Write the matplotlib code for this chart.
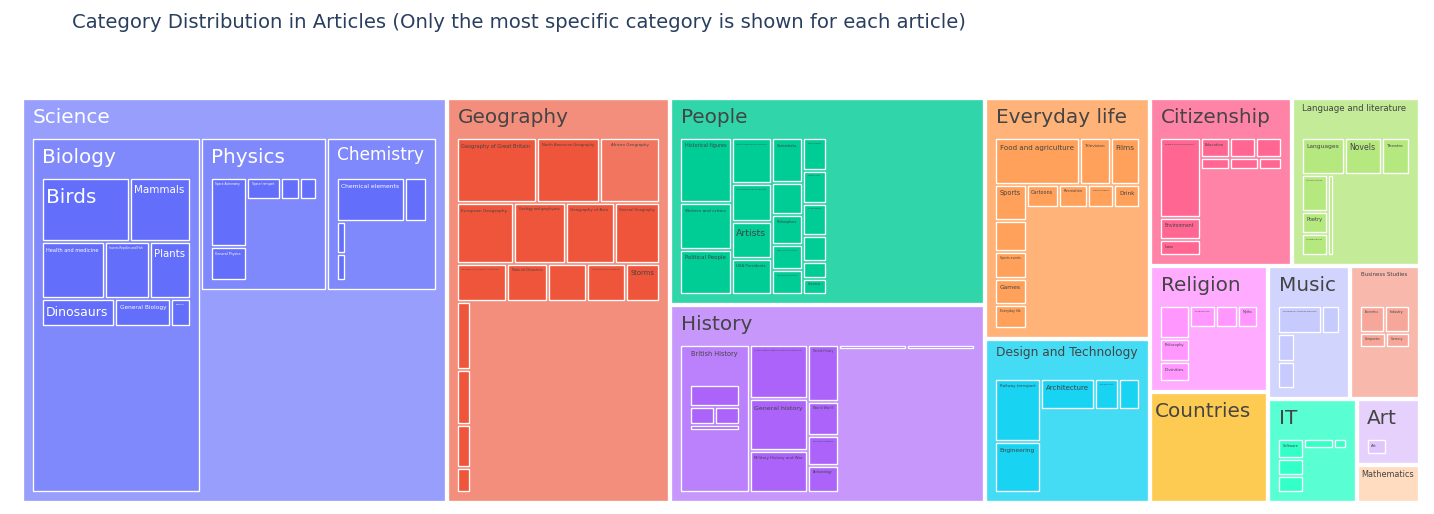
import colorsys
import matplotlib
matplotlib.use("Agg")
import matplotlib.pyplot as plt
from matplotlib.patches import Rectangle
from matplotlib.font_manager import FontProperties

#%% data: article counts, each article counted at its most specific category

top_names = ["Science", "Geography", "People", "History", "Everyday life",
             "Design and Technology", "Citizenship", "Language and literature",
             "Religion", "Countries", "Music", "Business Studies", "IT", "Art", "Mathematics"]
top_own = [524, 417, 301, 254, 182, 124, 107, 94, 68, 120, 48, 42, 42, 20, 22]

science_names = ["Biology", "Physics", "Chemistry"]
science_own = [337, 110, 97]

biology_names = ["Birds", "Mammals", "Health and medicine", "Insects Reptiles and Fish",
                 "Plants", "Dinosaurs", "General Biology", "Organisms"]
biology_vals = [82, 57, 52, 37, 34, 30, 23, 8]

physics_names = ["Space Astronomy", "General Physics", "Space transport",
                 "Electricity and Electronics", "The Planets"]
physics_vals = [49, 24, 14, 8, 7]

chemistry_names = ["Chemical elements", "Chemical compounds", "General Chemistry", "Organic chemistry"]
chemistry_vals = [59, 19, 6, 5]

geography_names = ["Geography of Great Britain", "North American Geography", "African Geography",
                   "European Geography", "Geology and geophysics", "Geography of Asia",
                   "General Geography", "Geography of Oceania Australasia", "Natural Disasters",
                   "Central and South American Geography", "Climate and the Weather", "Storms",
                   "Geography of the Middle East", "Mineralogy", "Antarctica", "Oceans"]
geography_vals = [60, 47, 45, 40, 36, 34, 32, 22, 18, 17, 17, 15, 11, 9, 7, 4]
african_names = ["African Countries"]
african_vals = [0]

people_names = ["Historical figures", "Writers and critics", "Political People",
                "Sports and games people", "Performers and composers", "Artists", "USA Presidents",
                "Scientists", "Religious figures and leaders", "Philosophers", "Engineers and inventors",
                "Monarchs of Great Britain", "Human Scientists", "Mathematicians", "Military People",
                "Producers directors and media figures", "Astronomers and physicists", "Chemists"]
people_vals = [43, 31, 30, 24, 20, 19, 19, 18, 13, 12, 10, 10, 10, 10, 10, 8, 5, 5]

history_names = ["British History", "Ancient History Classical History and Mythology",
                 "General history", "Military History and War", "Recent History", "World War II",
                 "Pre 1900 Military", "Archaeology", "Historians chroniclers and history books",
                 "North American History"]
history_own = [72, 42, 40, 32, 23, 14, 12, 11, 5, 5]
british_names = ["British History 1500 and before including Roman Britain", "British History 1500 1750",
                 "British History 1750 1900", "British History Post 1900"]
british_vals = [31, 12, 12, 8]

everyday_names = ["Food and agriculture", "Television", "Films", "Sports", "Computer and Video games",
                  "Sports events", "Games", "Everyday life", "Cartoons", "Recreation",
                  "Sports teams", "Drink"]
everyday_vals = [52, 19, 18, 15, 13, 11, 11, 10, 10, 9, 8, 8]

design_names = ["Railway transport", "Engineering", "Architecture", "Road transport", "Air and Sea transport"]
design_vals = [44, 35, 25, 11, 10]

citizenship_names = ["Politics and government", "Environment", "Law", "Education", "Culture and Diversity",
                     "Community organisations", "Media", "Animal and Human Rights", "Armed Forces"]
citizenship_vals = [49, 13, 10, 9, 8, 8, 5, 5, 4]

language_names = ["Languages", "Novels", "Theatre", "Literature types", "Poetry", "Childrens books",
                  "Language and literature"]
language_vals = [25, 21, 16, 15, 9, 9, 8]

religion_names = ["Religious movements traditions and organizations", "Philosophy", "Divinities",
                  "Religious texts", "Religious disputes", "Myths"]
religion_vals = [18, 13, 11, 10, 9, 8]

music_names = ["Musical genres styles eras and events", "Musical Recordings and compositions",
               "Musical Instruments", "Music theory"]
music_vals = [24, 10, 9, 9]

business_names = ["Economics", "Industry", "Companies", "Currency"]
business_vals = [14, 14, 8, 7]

it_names = ["Software", "Computer Programming", "Websites and the Internet",
            "Computing hardware and infrastructure", "Cryptography"]
it_vals = [12, 10, 10, 7, 3]

art_names = ["Art"]
art_vals = [18]

title = "Category Distribution in Articles (Only the most specific category is shown for each article)"

colorway = ["#636efa", "#EF553B", "#00cc96", "#ab63fa", "#FFA15A",
            "#19d3f3", "#FF6692", "#B6E880", "#FF97FF", "#FECB52"]

#%% build the tree

def node(name, own, kids=None):
    return {"name": name, "own": own, "kids": kids or []}

def leaves(names, vals):
    return [node(n, v) for n, v in zip(names, vals)]

science_kids = [node("Biology", science_own[0], leaves(biology_names, biology_vals)),
                node("Physics", science_own[1], leaves(physics_names, physics_vals)),
                node("Chemistry", science_own[2], leaves(chemistry_names, chemistry_vals))]
geography_kids = leaves(geography_names, geography_vals)
geography_kids[geography_names.index("African Geography")]["kids"] = leaves(african_names, african_vals)
history_kids = leaves(history_names, history_own)
history_kids[0]["kids"] = leaves(british_names, british_vals)

top_kids = [science_kids, geography_kids, leaves(people_names, people_vals), history_kids,
            leaves(everyday_names, everyday_vals), leaves(design_names, design_vals),
            leaves(citizenship_names, citizenship_vals), leaves(language_names, language_vals),
            leaves(religion_names, religion_vals), [], leaves(music_names, music_vals),
            leaves(business_names, business_vals), leaves(it_names, it_vals),
            leaves(art_names, art_vals), []]

root = node("", 0, [node(n, o, k) for n, o, k in zip(top_names, top_own, top_kids)])

def total(nd):
    nd["value"] = nd["own"] + sum(total(c) for c in nd["kids"])
    nd["height"] = 1 + max(c["height"] for c in nd["kids"]) if nd["kids"] else 0
    nd["kids"] = sorted(nd["kids"], key=lambda c: -c["value"])
    return nd["value"]

total(root)

#%% squarified treemap (same rules as d3 / plotly, ratio 1)

PAD_T, PAD_S, PAD_IN = 40, 10, 3

def dice(row, tot, x0, y0, x1, y1):
    k = (x1 - x0) / tot if tot else 0
    for nd in row:
        nd["x0"], nd["y0"], nd["y1"] = x0, y0, y1
        x0 += nd["value"] * k
        nd["x1"] = x0

def slice_(row, tot, x0, y0, x1, y1):
    k = (y1 - y0) / tot if tot else 0
    for nd in row:
        nd["x0"], nd["x1"], nd["y0"] = x0, x1, y0
        y0 += nd["value"] * k
        nd["y1"] = y0

def squarify(nodes, value, x0, y0, x1, y1):
    i0 = i1 = 0
    n = len(nodes)
    while i0 < n:
        dx, dy = x1 - x0, y1 - y0
        s = nodes[i1]["value"]
        i1 += 1
        while not s and i1 < n:
            s = nodes[i1]["value"]
            i1 += 1
        lo = hi = s
        if dx > 0 and dy > 0 and value > 0:
            alpha = max(dy / dx, dx / dy) / value
        else:
            alpha = 0
        beta = s * s * alpha
        best = max(hi / beta, beta / lo) if beta > 0 else float("inf")
        while i1 < n:
            v = nodes[i1]["value"]
            s += v
            lo, hi = min(lo, v), max(hi, v)
            beta = s * s * alpha
            r = max(hi / beta, beta / lo) if (beta > 0 and lo > 0) else float("inf")
            if r > best:
                s -= v
                break
            best = r
            i1 += 1
        row = nodes[i0:i1]
        if dx < dy:
            ye = y0 + dy * s / value if value else y1
            dice(row, s, x0, y0, x1, ye)
            y0 = ye
        else:
            xe = x0 + dx * s / value if value else x1
            slice_(row, s, x0, y0, xe, y1)
            x0 = xe
        value -= s
        i0 = i1

def place(nd, p, pads):
    x0, y0, x1, y1 = nd["x0"] + p, nd["y0"] + p, nd["x1"] - p, nd["y1"] - p
    if x1 < x0:
        x0 = x1 = (x0 + x1) / 2
    if y1 < y0:
        y0 = y1 = (y0 + y1) / 2
    nd["x0"], nd["y0"], nd["x1"], nd["y1"] = x0, y0, x1, y1
    if nd["kids"]:
        q = PAD_IN / 2
        pt, ps = pads
        tx0, ty0, tx1, ty1 = x0 + ps - q, y0 + pt - q, x1 - ps + q, y1 - ps + q
        if tx1 < tx0:
            tx0 = tx1 = (tx0 + tx1) / 2
        if ty1 < ty0:
            ty0 = ty1 = (ty0 + ty1) / 2
        squarify(nd["kids"], nd["value"], tx0, ty0, tx1, ty1)
        for c in nd["kids"]:
            place(c, q, (PAD_T, PAD_S))

W, H = 1434, 514
root["x0"], root["y0"], root["x1"], root["y1"] = 22.7, 99.3, 1417.5, 500.8
place(root, 0, (0, 0))

#%% colours

def hex2rgb(h):
    h = h.lstrip("#")
    return [int(h[i:i + 2], 16) for i in (0, 2, 4)]

def lighten(h, amt=0.2):
    r, g, b = [c / 255 for c in hex2rgb(h)]
    hh, l, s = colorsys.rgb_to_hls(r, g, b)
    r, g, b = colorsys.hls_to_rgb(hh, min(1, l + amt), s)
    return [round(r * 255), round(g * 255), round(b * 255)]

base_cols = [hex2rgb(c) for c in colorway] + [lighten(c) for c in colorway]

def fade(rgb, height):
    faded = [0.75 * 255 + 0.25 * c for c in rgb]
    col = list(rgb)
    n = height + 1
    for i in range(n):
        r = 0.5 * i / n
        col = [r * f + (1 - r) * c for f, c in zip(faded, col)]
    return tuple(c / 255 for c in col)

def text_color(rgb):
    bright = (rgb[0] * 299 + rgb[1] * 587 + rgb[2] * 114) / 1000
    return "#444444" if bright > 128 else "white"

#%% draw

fig = plt.figure(figsize=(W / 100, H / 100), dpi=100)
ax = fig.add_axes([0, 0, 1, 1])
ax.set_xlim(0, W)
ax.set_ylim(H, 0)
ax.axis("off")
renderer = fig.canvas.get_renderer()

FS = 20  # px
prop = FontProperties(family="DejaVu Sans", size=FS * 0.72)

def label(nd, col):
    x0, y0 = nd["x0"], nd["y0"]
    w, h = nd["x1"] - x0, nd["y1"] - y0
    tw = renderer.get_text_width_height_descent(nd["name"], prop, ismath=False)[0]
    if nd["kids"]:
        fs = min(FS, FS * (w - 20) / tw)
        tx = x0 + 9.5
    else:
        fs = min(FS, FS * (w - 7.5) / tw, (h - 8) / 1.2)
        tx = x0 + 3.5
    if fs < 1.5:
        return
    ax.text(tx, y0 + 2.8 + 1.06 * fs, nd["name"], fontsize=fs * 0.72, color=col,
            family="DejaVu Sans", ha="left", va="baseline")

def draw(nd, rgb, col):
    w, h = nd["x1"] - nd["x0"], nd["y1"] - nd["y0"]
    if nd["value"] <= 0 or w <= 0 or h <= 0:
        return
    ax.add_patch(Rectangle((nd["x0"], nd["y0"]), w, h, facecolor=fade(rgb, nd["height"]),
                           edgecolor="white", linewidth=0.95))
    label(nd, col)
    for c in nd["kids"]:
        draw(c, rgb, col)

for i, top in enumerate(root["kids"]):
    rgb = base_cols[i]
    draw(top, rgb, text_color(rgb))

ax.text(71.7, 28.5, title, fontsize=19.7 * 0.72, color="#2a3f5f", family="DejaVu Sans",
        ha="left", va="baseline")

fig.savefig("out.png", dpi=100)
